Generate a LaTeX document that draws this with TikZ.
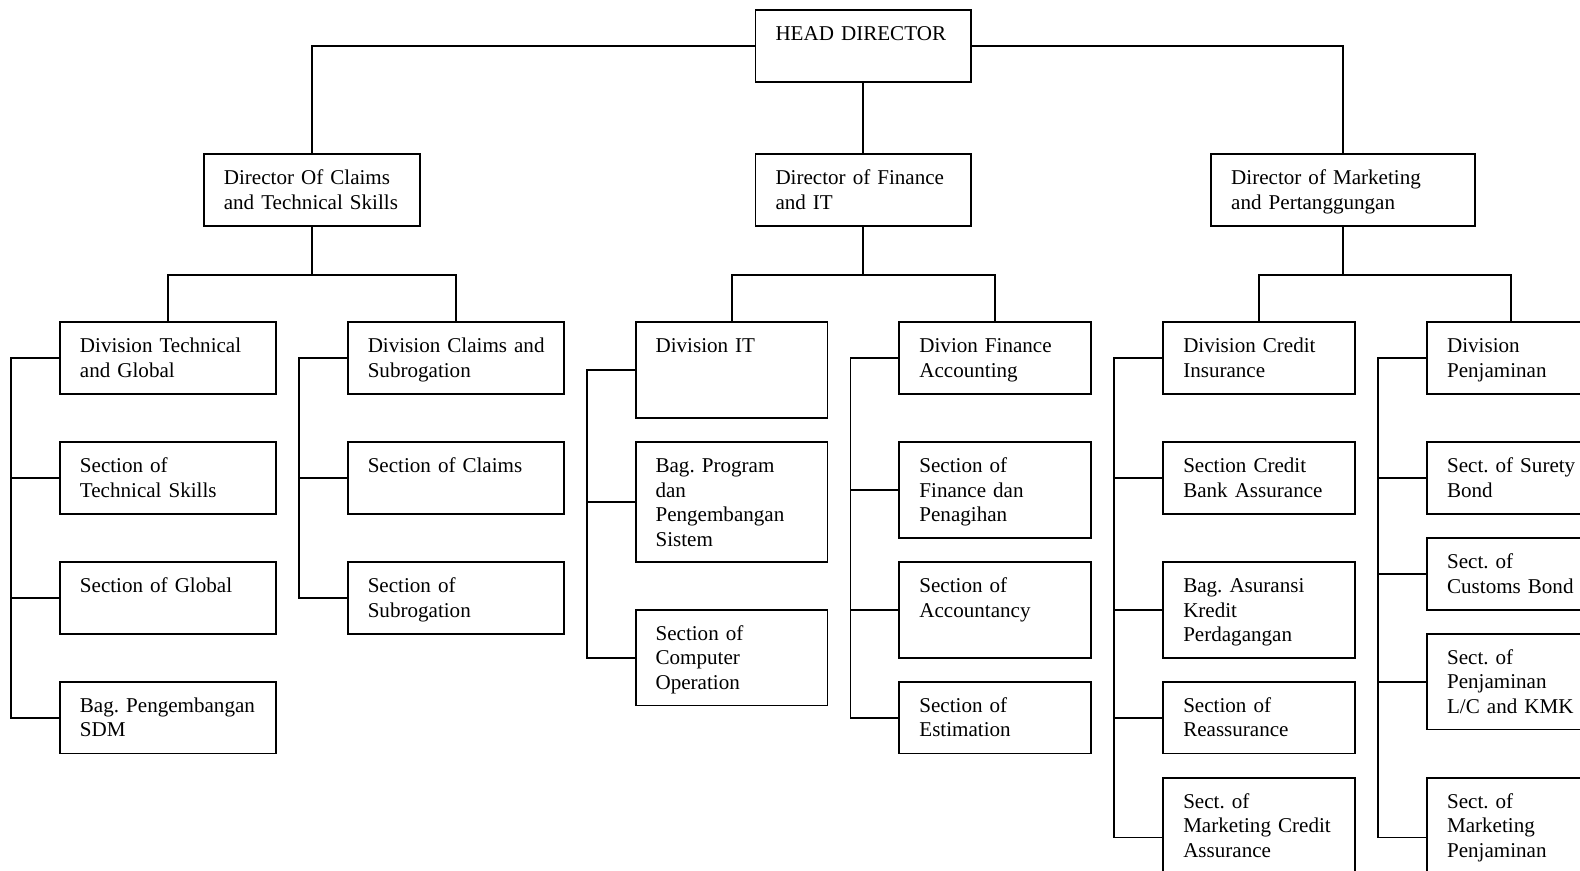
\documentclass[tikz,border=0pt]{standalone}
\usepackage{fontspec}
\setmainfont{Liberation Serif}
\usepackage{tikz}

\begin{document}
\begin{tikzpicture}[node distance=2.4cm]

\tikzstyle{box} = [rectangle, draw=black, line width=1.1pt, align=left, inner xsep=0.4cm, inner ysep=0pt, text height=17.5pt, font=\fontsize{12}{14}\selectfont\frenchspacing]
\tikzstyle{row3} = [box, text depth=0.823cm]
\tikzstyle{row4} = [box, text depth=1.303cm]
\tikzstyle{row5} = [box, text depth=1.783cm]
\tikzstyle{wide} = [text width=3.52cm]
\tikzstyle{wider} = [text width=4.48cm]
\tikzstyle{narrow} = [text width=3.04cm]
\tikzstyle{slim} = [text width=2.56cm]
\tikzstyle{link} = [line width=1.1pt]

\useasboundingbox (-17.28,-16.50) rectangle (14.34,0.92);

% Directors
\node (head) [row3, wide] {HEAD DIRECTOR};
\node (dirfin) [row3, wide, below of=head, node distance=2.88cm] {Director of Finance\\and IT};
\node (dirclaim) [row3, wide, left of=dirfin, node distance=11.04cm] {Director Of Claims\\and Technical Skills};
\node (dirmkt) [row3, wider, right of=dirfin, node distance=9.6cm] {Director of Marketing\\and Pertanggungan};

% Divisions
\node (divtech) [row3, wide, below of=dirclaim, node distance=3.36cm, xshift=-2.88cm] {Division Technical\\and Global};
\node (divclaim) [row3, wide, below of=dirclaim, node distance=3.36cm, xshift=2.88cm] {\mbox{Division Claims and}\\Subrogation};
\node (divit) [row4, narrow, below of=dirfin, node distance=3.6cm, xshift=-2.64cm] {Division IT};
\node (divfin) [row3, narrow, below of=dirfin, node distance=3.36cm, xshift=2.64cm] {Divion Finance\\Accounting};
\node (divcredit) [row3, narrow, below of=dirmkt, node distance=3.36cm, xshift=-1.68cm] {Division Credit\\Insurance};
\node (divpenj) [row3, slim, below of=dirmkt, node distance=3.36cm, xshift=3.36cm] {Division\\Penjaminan};

% Sections under Technical and Global
\node (sectskill) [row3, wide, below of=divtech] {Section of\\Technical Skills};
\node (sectglobal) [row3, wide, below of=sectskill] {Section of Global};
\node (bagsdm) [row3, wide, below of=sectglobal] {Bag. Pengembangan\\SDM};

% Sections under Claims and Subrogation
\node (sectclaim) [row3, wide, below of=divclaim] {Section of Claims};
\node (sectsubro) [row3, wide, below of=sectclaim] {Section of\\Subrogation};

% Sections under IT
\node (bagprog) [row5, narrow, below of=divit, node distance=2.64cm] {Bag. Program\\dan\\Pengembangan\\Sistem};
\node (sectcomp) [row4, narrow, below of=bagprog, node distance=3.12cm] {Section of\\Computer\\Operation};

% Sections under Finance Accounting
\node (sectbill) [row4, narrow, below of=divfin, node distance=2.64cm] {Section of\\Finance dan\\Penagihan};
\node (sectacc) [row4, narrow, below of=sectbill] {Section of\\Accountancy};
\node (sectest) [row3, narrow, below of=sectacc, node distance=2.16cm] {Section of\\Estimation};

% Sections under Credit Insurance
\node (sectbank) [row3, narrow, below of=divcredit] {Section Credit\\Bank Assurance};
\node (bagtrade) [row4, narrow, below of=sectbank, node distance=2.64cm] {Bag. Asuransi\\Kredit\\Perdagangan};
\node (sectreas) [row3, narrow, below of=bagtrade, node distance=2.16cm] {Section of\\Reassurance};
\node (sectmcred) [row5, narrow, below of=sectreas] {Sect. of\\Marketing Credit\\Assurance};

% Sections under Penjaminan
\node (sectsurety) [row3, slim, below of=divpenj] {\mbox{Sect. of Surety}\\Bond};
\node (sectcustom) [row3, slim, below of=sectsurety, node distance=1.92cm] {Sect. of\\Customs Bond};
\node (sectlc) [row4, slim, below of=sectcustom, node distance=2.16cm] {Sect. of\\Penjaminan\\L/C and KMK};
\node (sectmpenj) [row5, slim, below of=sectlc, node distance=3.12cm] {Sect. of\\Marketing\\Penjaminan};

% Lines from the head
\draw [link] (head.west) -| (dirclaim.north);
\draw [link] (head.east) -| (dirmkt.north);
\draw [link] (head) -- (dirfin);

% Lines from directors to divisions
\draw [link] (dirclaim.south) -- ++(0,-0.96) -| (divtech.north);
\draw [link] (dirclaim.south) -- ++(0,-0.96) -| (divclaim.north);
\draw [link] (dirfin.south) -- ++(0,-0.96) -| (divit.north);
\draw [link] (dirfin.south) -- ++(0,-0.96) -| (divfin.north);
\draw [link] (dirmkt.south) -- ++(0,-0.96) -| (divcredit.north);
\draw [link] (dirmkt.south) -- ++(0,-0.96) -| (divpenj.north);

% Lines from divisions to sections
\draw [link] (divtech.west) -- ++(-0.96,0) |- (sectskill.west);
\draw [link] (divtech.west) -- ++(-0.96,0) |- (sectglobal.west);
\draw [link] (divtech.west) -- ++(-0.96,0) |- (bagsdm.west);
\draw [link] (divclaim.west) -- ++(-0.96,0) |- (sectclaim.west);
\draw [link] (divclaim.west) -- ++(-0.96,0) |- (sectsubro.west);
\draw [link] (divit.west) -- ++(-0.96,0) |- (bagprog.west);
\draw [link] (divit.west) -- ++(-0.96,0) |- (sectcomp.west);
\draw [link] (divfin.west) -- ++(-0.96,0) |- (sectbill.west);
\draw [link] (divfin.west) -- ++(-0.96,0) |- (sectacc.west);
\draw [link] (divfin.west) -- ++(-0.96,0) |- (sectest.west);
\draw [link] (divcredit.west) -- ++(-0.96,0) |- (sectbank.west);
\draw [link] (divcredit.west) -- ++(-0.96,0) |- (bagtrade.west);
\draw [link] (divcredit.west) -- ++(-0.96,0) |- (sectreas.west);
\draw [link] (divcredit.west) -- ++(-0.96,0) |- (sectmcred.west);
\draw [link] (divpenj.west) -- ++(-0.96,0) |- (sectsurety.west);
\draw [link] (divpenj.west) -- ++(-0.96,0) |- (sectcustom.west);
\draw [link] (divpenj.west) -- ++(-0.96,0) |- (sectlc.west);
\draw [link] (divpenj.west) -- ++(-0.96,0) |- (sectmpenj.west);

\end{tikzpicture}
\end{document}
